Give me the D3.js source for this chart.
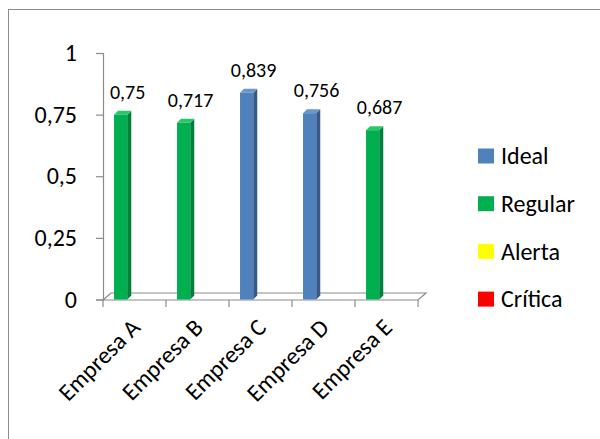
<!DOCTYPE html>
<html>
<head>
<meta charset="utf-8">
<script src="https://cdn.jsdelivr.net/npm/d3@7"></script>
<style>
  body { margin: 0; background: #fff; }
  svg { display: block; font-family: Calibri, Carlito, "Open Sans", sans-serif; }
</style>
</head>
<body>
<div id="chart"></div>
<script>
const categories = ["Empresa A", "Empresa B", "Empresa C", "Empresa D", "Empresa E"];
const values = [0.75, 0.717, 0.839, 0.756, 0.687];
const levels = ["Regular", "Regular", "Ideal", "Ideal", "Regular"];
const legendLabels = ["Ideal", "Regular", "Alerta", "Crítica"];
const yTicks = [0, 0.25, 0.5, 0.75, 1];

const width = 600, height = 439;
const svg = d3.select("#chart").append("svg")
    .attr("width", width)
    .attr("height", height);

// outer frame (only top/left visible in the original)
svg.append("rect")
    .attr("x", 8.5).attr("y", 9.5)
    .attr("width", 640).attr("height", 480)
    .attr("fill", "none")
    .attr("stroke", "#8c8c8c");

const color = d3.scaleOrdinal()
    .domain(legendLabels)
    .range(["#4f81bd", "#00b050", "#ffff00", "#ff0000"]);
const sideColor = d3.scaleOrdinal()
    .domain(legendLabels)
    .range(["#36598a", "#00803a", "#b3b300", "#b30000"]);
const topColor = d3.scaleOrdinal()
    .domain(legendLabels)
    .range(["#6a96cc", "#2cc56a", "#ffff66", "#ff5555"]);

const x = d3.scaleBand().domain(categories).range([103, 418]);
const y = d3.scaleLinear().domain([0, 1]).range([299.5, 53]);
const depthX = 8, depthY = 7;   // floor depth
const barDX = 4, barDY = 4;     // bar depth
const bw = x.bandwidth();
const fmt = v => String(v).replace(".", ",");

const axisColor = "#8c8c8c";

// floor
const fy = y(0) + 0.5;
svg.append("polygon")
    .attr("points", [[x.range()[0], fy], [x.range()[1], fy],
        [x.range()[1] + depthX, fy - depthY], [x.range()[0] + depthX, fy - depthY]].join(" "))
    .attr("fill", "none")
    .attr("stroke", axisColor)
    .attr("stroke-width", 1.2);

// y axis
const yAxis = svg.append("g")
    .attr("transform", `translate(${x.range()[0]},0)`)
    .call(d3.axisLeft(y).tickValues(yTicks).tickFormat(fmt).tickSize(7).tickPadding(19));
yAxis.select(".domain").attr("stroke", axisColor).attr("stroke-width", 1.2);
yAxis.selectAll(".tick line").attr("stroke", axisColor).attr("stroke-width", 1.2);
yAxis.selectAll(".tick text")
    .attr("font-size", 24)
    .attr("font-family", "Calibri, Carlito, 'Open Sans', sans-serif")
    .attr("fill", "#000");

// x ticks at band boundaries
const xBounds = categories.map(c => x(c)).concat([x.range()[1]]);
svg.append("g").selectAll("line")
    .data(xBounds)
    .join("line")
    .attr("x1", d => d).attr("x2", d => d)
    .attr("y1", fy).attr("y2", fy + 7)
    .attr("stroke", axisColor)
    .attr("stroke-width", 1.2);

// x labels
svg.append("g").selectAll("text")
    .data(categories)
    .join("text")
    .attr("transform", d => `translate(${x(d) + bw / 2 + 7},${fy + 29}) rotate(-45)`)
    .attr("text-anchor", "end")
    .attr("font-size", 24)
    .text(d => d);

// bars
const rows = categories.map((c, i) => ({ cat: c, value: values[i], level: levels[i] }));
const barW = bw * 0.21;
const barX = d => x(d.cat) + bw * 0.175;
const bars = svg.append("g").selectAll("g")
    .data(rows)
    .join("g");

bars.append("rect")
    .attr("x", d => barX(d))
    .attr("y", d => y(d.value))
    .attr("width", barW)
    .attr("height", d => y(0) - y(d.value))
    .attr("fill", d => color(d.level));

bars.append("polygon")
    .attr("points", d => {
        const x0 = barX(d) + barW, yt = y(d.value), yb = y(0);
        return [[x0, yt], [x0 + barDX, yt - barDY], [x0 + barDX, yb - barDY], [x0, yb]].join(" ");
    })
    .attr("fill", d => sideColor(d.level));

bars.append("polygon")
    .attr("points", d => {
        const x0 = barX(d), yt = y(d.value);
        return [[x0, yt], [x0 + barDX, yt - barDY], [x0 + barW + barDX, yt - barDY], [x0 + barW, yt]].join(" ");
    })
    .attr("fill", d => topColor(d.level));

bars.append("text")
    .attr("x", d => barX(d) + barW / 2 + 7)
    .attr("y", d => y(d.value) - 16)
    .attr("text-anchor", "middle")
    .attr("font-size", 20)
    .text(d => fmt(d.value));

// legend
const legend = svg.append("g").selectAll("g")
    .data(legendLabels)
    .join("g")
    .attr("transform", (d, i) => `translate(478,${156 + i * 47.7})`);

legend.append("rect")
    .attr("x", 0).attr("y", -7.5)
    .attr("width", 16).attr("height", 15)
    .attr("fill", d => color(d));

legend.append("text")
    .attr("x", 23)
    .attr("y", 0)
    .attr("dy", "0.34em")
    .attr("font-size", 24)
    .text(d => d);
</script>
</body>
</html>
